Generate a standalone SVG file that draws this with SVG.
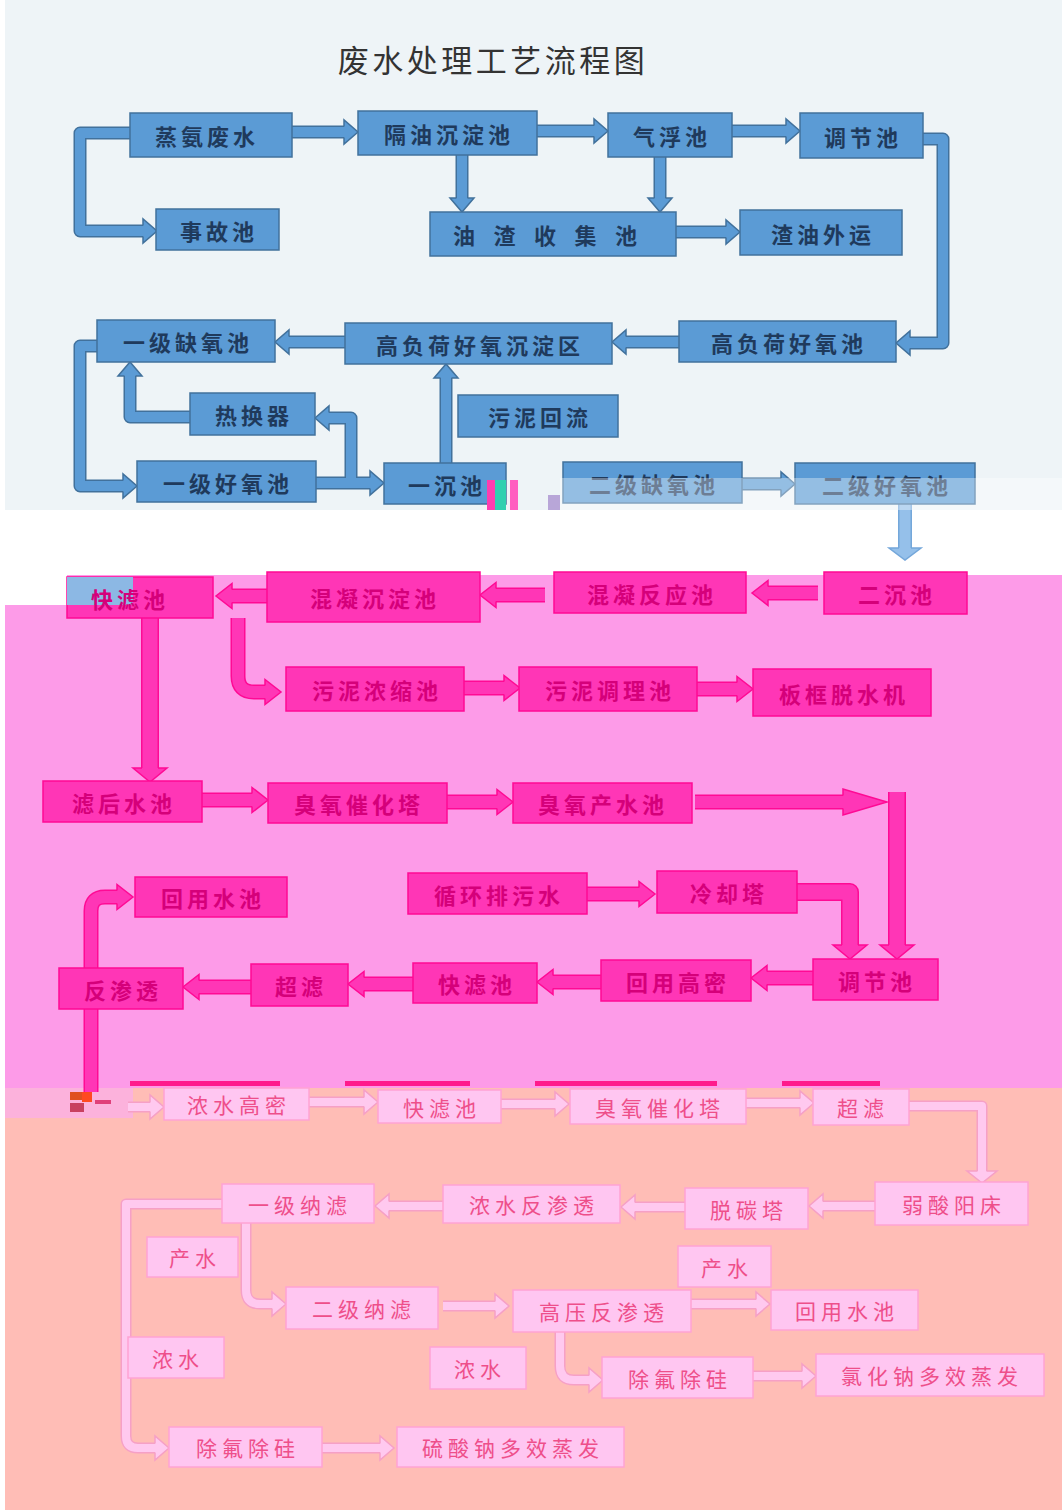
<svg xmlns="http://www.w3.org/2000/svg" xmlns:xlink="http://www.w3.org/1999/xlink" width="1062" height="1510" viewBox="0 0 1062 1510">
<defs>
<style>
.nb{fill:#5b9bd5;stroke:#41719c;stroke-width:1.5}
.np{fill:#ff36b6;stroke:#ff0a94;stroke-width:1.5}
.nq{fill:#ffc6f1;stroke:#ffa3d3;stroke-width:1.5}
.t{font-family:"Noto Sans CJK SC","Noto Sans",sans-serif;text-anchor:middle;dominant-baseline:central}
.tb{font-size:22px;font-weight:700;fill:#1f3a5c;letter-spacing:4px}
.tp{font-size:22px;font-weight:700;fill:#d5007a;letter-spacing:4px}
.tq{font-size:21px;font-weight:400;fill:#ee4f8a;letter-spacing:5px}
.title{font-size:31px;font-weight:400;fill:#333;letter-spacing:3.5px}
.sbo{fill:none;stroke:#41719c;stroke-width:13;stroke-linejoin:round}
.sbi{fill:none;stroke:#5b9bd5;stroke-width:10;stroke-linejoin:round}
.slo{fill:none;stroke:#74a7da;stroke-width:14}
.sli{fill:none;stroke:#95c0ea;stroke-width:11}
.spo{fill:none;stroke:#ff0a94;stroke-width:15;stroke-linejoin:round}
.spi{fill:none;stroke:#ff36b6;stroke-width:12;stroke-linejoin:round}
.swo{fill:none;stroke:#ff0a94;stroke-width:18;stroke-linejoin:round}
.swi{fill:none;stroke:#ff36b6;stroke-width:15;stroke-linejoin:round}
.sqo{fill:none;stroke:#f6a0c6;stroke-width:11;stroke-linejoin:round}
.sqi{fill:none;stroke:#ffc9ef;stroke-width:8;stroke-linejoin:round}
.hb{fill:#5b9bd5;stroke:#41719c;stroke-width:1.5}
.hl{fill:#95c0ea;stroke:#74a7da;stroke-width:1.5}
.hp{fill:#ff36b6;stroke:#ff0a94;stroke-width:1.5}
.hq{fill:#ffc9ef;stroke:#f6a0c6;stroke-width:1.5}
</style>
<path id="ahb" d="M-14,-5.5 L-14,-12 L0,0 L-14,12 L-14,5.5"/>
<path id="ahl" d="M-12,-6 L-12,-16 L0,0 L-12,16 L-12,6"/>
<path id="ahp" d="M-16,-6.5 L-16,-12.5 L0,0 L-16,12.5 L-16,6.5"/>
<path id="ahw" d="M-14,-8 L-14,-17 L0,0 L-14,17 L-14,8"/>
<path id="ahL" d="M-44,-6.5 L-44,-13 L0,0 L-44,13 L-44,6.5"/>
<path id="ahq" d="M-14,-4.5 L-14,-12 L0,0 L-14,12 L-14,4.5"/>
<path id="ahq2" d="M-12,-4.5 L-12,-15 L0,0 L-12,15 L-12,4.5"/>
<path id="blueShafts" d="M292,132 H345 M130,133 H80 V231 H144 M537,131 H595 M732,131 H787 M462,155 V199 M660,157 V199 M676,232 H727 M923,139 H943 V343 H909 M679,342 H625 M345,342 H288 M97,346 H80 V486 H124 M316,483 H371 M351,483 V418 H329 M190,417 H130 V375 M446,463 V377 M742,484 H782"/>
<path id="pinkShafts" d="M818,593 H767 M545,595 H495 M267,596 H231 M238,618 V676 Q238,692 254,692 H266 M464,688 H505 M697,689 H738 M202,800 H253 M447,802 H498 M695,802 H844 M587,894 H640 M813,978 H766 M601,982 H552 M413,984 H363 M251,987 H198 M91,968 V911 Q91,897 105,897 H118 M91,1009 V1092"/>
<path id="pinkWide" d="M150,618 V769 M897,792 V946 M797,892 H850 V946"/>
<path id="peachShafts" d="M128,1107 H151 M309,1102 H364 M501,1104 H555 M746,1103 H800 M909,1106 H982 V1171 M875,1206 H823 M685,1207 H635 M443,1206 H389 M222,1204 H126 V1436 Q126,1448 138,1448 H156 M246,1223 V1290 Q246,1304 260,1304 H273 M443,1306 H495 M691,1304 H756 M560,1332 V1366 Q560,1380 574,1380 H589 M753,1376 H802 M322,1448 H380"/>
</defs>

<g id="background">
<rect x="0" y="0" width="1062" height="1510" fill="#ffffff"/>
<rect x="5" y="0" width="1057" height="510" fill="#eef4f7"/>
<rect x="5" y="575" width="1057" height="513" fill="#fd9be8"/>
<rect x="5" y="575" width="62" height="30" fill="#ffffff"/>
<rect x="5" y="1088" width="1057" height="422" fill="#ffbdb6"/>
<rect x="5" y="1088" width="128" height="30" fill="#fcb2dc"/>
<g fill="#ff1a8c">
<rect x="130" y="1081" width="150" height="5"/>
<rect x="345" y="1081" width="125" height="5"/>
<rect x="535" y="1081" width="182" height="5"/>
<rect x="782" y="1081" width="98" height="5"/>
</g>
</g>

<g id="title"><text class="t title" x="493" y="58">废水处理工艺流程图</text></g>

<g id="connectors">
<use href="#blueShafts" class="sbo"/>
<use href="#blueShafts" class="sbi"/>
<path class="slo" d="M905,504 V549"/>
<path class="sli" d="M905,504 V549"/>
<use href="#ahb" class="hb" transform="translate(358,132)"/>
<use href="#ahb" class="hb" transform="translate(157,231)"/>
<use href="#ahb" class="hb" transform="translate(608,131)"/>
<use href="#ahb" class="hb" transform="translate(800,131)"/>
<use href="#ahb" class="hb" transform="translate(462,212) rotate(90)"/>
<use href="#ahb" class="hb" transform="translate(660,212) rotate(90)"/>
<use href="#ahb" class="hb" transform="translate(740,232)"/>
<use href="#ahb" class="hb" transform="translate(896,343) rotate(180)"/>
<use href="#ahb" class="hb" transform="translate(612,342) rotate(180)"/>
<use href="#ahb" class="hb" transform="translate(275,342) rotate(180)"/>
<use href="#ahb" class="hb" transform="translate(137,486)"/>
<use href="#ahb" class="hb" transform="translate(384,483)"/>
<use href="#ahb" class="hb" transform="translate(315,418) rotate(180)"/>
<use href="#ahb" class="hb" transform="translate(130,362) rotate(-90)"/>
<use href="#ahb" class="hb" transform="translate(446,364) rotate(-90)"/>
<use href="#ahb" class="hb" transform="translate(795,484)"/>
<use href="#ahl" class="hl" transform="translate(905,560) rotate(90)"/>

<use href="#pinkShafts" class="spo"/>
<use href="#pinkWide" class="swo"/>
<use href="#pinkShafts" class="spi"/>
<use href="#pinkWide" class="swi"/>
<use href="#ahp" class="hp" transform="translate(752,593) rotate(180)"/>
<use href="#ahp" class="hp" transform="translate(480,595) rotate(180)"/>
<use href="#ahp" class="hp" transform="translate(216,596) rotate(180)"/>
<use href="#ahp" class="hp" transform="translate(281,692)"/>
<use href="#ahp" class="hp" transform="translate(520,688)"/>
<use href="#ahp" class="hp" transform="translate(753,689)"/>
<use href="#ahp" class="hp" transform="translate(268,800)"/>
<use href="#ahp" class="hp" transform="translate(513,802)"/>
<use href="#ahL" class="hp" transform="translate(887,802)"/>
<use href="#ahp" class="hp" transform="translate(655,894)"/>
<use href="#ahp" class="hp" transform="translate(751,978) rotate(180)"/>
<use href="#ahp" class="hp" transform="translate(537,982) rotate(180)"/>
<use href="#ahp" class="hp" transform="translate(348,984) rotate(180)"/>
<use href="#ahp" class="hp" transform="translate(183,987) rotate(180)"/>
<use href="#ahp" class="hp" transform="translate(133,897)"/>
<use href="#ahw" class="hp" transform="translate(150,782) rotate(90)"/>
<use href="#ahw" class="hp" transform="translate(897,959) rotate(90)"/>
<use href="#ahw" class="hp" transform="translate(850,959) rotate(90)"/>

<use href="#peachShafts" class="sqo"/>
<use href="#peachShafts" class="sqi"/>
<use href="#ahq" class="hq" transform="translate(164,1107)"/>
<use href="#ahq" class="hq" transform="translate(378,1102)"/>
<use href="#ahq" class="hq" transform="translate(569,1104)"/>
<use href="#ahq" class="hq" transform="translate(814,1103)"/>
<use href="#ahq2" class="hq" transform="translate(982,1183) rotate(90)"/>
<use href="#ahq" class="hq" transform="translate(809,1206) rotate(180)"/>
<use href="#ahq" class="hq" transform="translate(621,1207) rotate(180)"/>
<use href="#ahq" class="hq" transform="translate(375,1206) rotate(180)"/>
<use href="#ahq" class="hq" transform="translate(169,1448)"/>
<use href="#ahq" class="hq" transform="translate(286,1304)"/>
<use href="#ahq" class="hq" transform="translate(509,1306)"/>
<use href="#ahq" class="hq" transform="translate(770,1304)"/>
<use href="#ahq" class="hq" transform="translate(603,1380)"/>
<use href="#ahq" class="hq" transform="translate(816,1376)"/>
<use href="#ahq" class="hq" transform="translate(394,1448)"/>
</g>

<g id="n-zhengan"><rect class="nb" x="130" y="113" width="162" height="44"/><text class="t tb" x="207" y="135">蒸氨废水</text></g>
<g id="n-shigu"><rect class="nb" x="156" y="209" width="123" height="41"/><text class="t tb" x="219" y="229.5">事故池</text></g>
<g id="n-geyou"><rect class="nb" x="358" y="111" width="179" height="44"/><text class="t tb" x="449" y="133">隔油沉淀池</text></g>
<g id="n-youzha"><rect class="nb" x="430" y="212" width="246" height="44"/><text class="t tb" style="letter-spacing:0" x="464 484 504.5 525 545 565 585.5 606 626" y="234">油 渣 收 集 池</text></g>
<g id="n-qifu"><rect class="nb" x="608" y="113" width="124" height="44"/><text class="t tb" x="672" y="135">气浮池</text></g>
<g id="n-tiaojie1"><rect class="nb" x="800" y="113" width="123" height="45"/><text class="t tb" x="863" y="135.5">调节池</text></g>
<g id="n-zhayou"><rect class="nb" x="740" y="210" width="162" height="45"/><text class="t tb" x="823" y="232.5">渣油外运</text></g>
<g id="n-yjqy"><rect class="nb" x="97" y="320" width="178" height="42"/><text class="t tb" x="188" y="341">一级缺氧池</text></g>
<g id="n-gfhcd"><rect class="nb" x="345" y="323" width="267" height="41"/><text class="t tb" x="480" y="343.5">高负荷好氧沉淀区</text></g>
<g id="n-gfh"><rect class="nb" x="679" y="321" width="217" height="41"/><text class="t tb" x="789" y="341.5">高负荷好氧池</text></g>
<g id="n-rhq"><rect class="nb" x="190" y="393" width="125" height="42"/><text class="t tb" x="254" y="414">热换器</text></g>
<g id="n-wnhl"><rect class="nb" x="458" y="395" width="160" height="42"/><text class="t tb" x="540" y="416">污泥回流</text></g>
<g id="n-yjhy"><rect class="nb" x="137" y="461" width="179" height="41"/><text class="t tb" x="228" y="481.5">一级好氧池</text></g>
<g id="n-yichen"><rect class="nb" x="384" y="463" width="122" height="41"/><text class="t tb" x="447" y="483.5">一沉池</text></g>
<g id="n-ejqy"><rect class="nb" x="563" y="462" width="179" height="41"/><text class="t tb" x="654" y="482.5">二级缺氧池</text></g>
<g id="n-ejhy"><rect class="nb" x="795" y="463" width="180" height="41"/><text class="t tb" x="887" y="483.5">二级好氧池</text></g>

<rect x="560" y="478" width="502" height="32" fill="#ffffff" opacity="0.35"/>
<g id="glitch1">
<rect x="487" y="480" width="8" height="30" fill="#ff3db0"/>
<rect x="495" y="480" width="11" height="30" fill="#2fd0b0"/>
<rect x="510" y="480" width="8" height="30" fill="#ff5ec0"/>
<rect x="548" y="495" width="12" height="15" fill="#b8a6d8"/>
</g>

<g id="n-kuailv1"><rect class="np" x="67" y="577" width="146" height="41"/><rect x="67" y="577" width="66" height="28" fill="#8cb8e4"/><text class="t tp" x="130" y="598">快滤池</text></g>
<g id="n-hncd"><rect class="np" x="267" y="572" width="213" height="50"/><text class="t tp" x="375" y="597">混凝沉淀池</text></g>
<g id="n-hnfy"><rect class="np" x="554" y="572" width="192" height="41"/><text class="t tp" x="652" y="592.5">混凝反应池</text></g>
<g id="n-erchen"><rect class="np" x="824" y="572" width="143" height="42"/><text class="t tp" x="897" y="593">二沉池</text></g>
<g id="n-wnns"><rect class="np" x="286" y="667" width="178" height="44"/><text class="t tp" x="377" y="689">污泥浓缩池</text></g>
<g id="n-wntl"><rect class="np" x="519" y="667" width="178" height="44"/><text class="t tp" x="610" y="689">污泥调理池</text></g>
<g id="n-bkts"><rect class="np" x="753" y="669" width="178" height="47"/><text class="t tp" x="844" y="692.5">板框脱水机</text></g>
<g id="n-lhsc"><rect class="np" x="43" y="781" width="159" height="41"/><text class="t tp" x="124" y="801.5">滤后水池</text></g>
<g id="n-cyjht1"><rect class="np" x="268" y="783" width="179" height="40"/><text class="t tp" x="359" y="803">臭氧催化塔</text></g>
<g id="n-cycs"><rect class="np" x="513" y="783" width="179" height="40"/><text class="t tp" x="603" y="803">臭氧产水池</text></g>
<g id="n-xhpw"><rect class="np" x="408" y="873" width="179" height="41"/><text class="t tp" x="499" y="893.5">循环排污水</text></g>
<g id="n-lqt"><rect class="np" x="657" y="871" width="140" height="42"/><text class="t tp" x="729" y="892">冷却塔</text></g>
<g id="n-hysc1"><rect class="np" x="135" y="877" width="152" height="40"/><text class="t tp" x="213" y="897">回用水池</text></g>
<g id="n-fst"><rect class="np" x="59" y="968" width="124" height="41"/><text class="t tp" x="123" y="988.5">反渗透</text></g>
<g id="n-chaolv1"><rect class="np" x="251" y="964" width="97" height="42"/><text class="t tp" x="301" y="985">超滤</text></g>
<g id="n-kuailv2"><rect class="np" x="413" y="963" width="124" height="40"/><text class="t tp" x="477" y="983">快滤池</text></g>
<g id="n-hygm"><rect class="np" x="601" y="960" width="150" height="41"/><text class="t tp" x="678" y="980.5">回用高密</text></g>
<g id="n-tiaojie2"><rect class="np" x="813" y="959" width="125" height="41"/><text class="t tp" x="877" y="979.5">调节池</text></g>

<g id="glitch2">
<rect x="70" y="1092" width="12" height="8" fill="#e05020"/>
<rect x="82" y="1092" width="10" height="10" fill="#ff4a20"/>
<rect x="70" y="1103" width="14" height="9" fill="#c84060"/>
<rect x="95" y="1100" width="16" height="4" fill="#e0407a"/>
</g>

<g id="n-nsgm"><rect class="nq" x="164" y="1088" width="145" height="32"/><text class="t tq" x="239" y="1104">浓水高密</text></g>
<g id="n-kuailv3"><rect class="nq" x="378" y="1090" width="123" height="33"/><text class="t tq" x="442" y="1106.5">快滤池</text></g>
<g id="n-cyjht2"><rect class="nq" x="570" y="1089" width="176" height="35"/><text class="t tq" x="660" y="1106.5">臭氧催化塔</text></g>
<g id="n-chaolv2"><rect class="nq" x="813" y="1089" width="96" height="36"/><text class="t tq" x="863" y="1107">超滤</text></g>
<g id="n-rsyc"><rect class="nq" x="875" y="1182" width="153" height="43"/><text class="t tq" x="954" y="1203.5">弱酸阳床</text></g>
<g id="n-ttt"><rect class="nq" x="685" y="1188" width="123" height="41"/><text class="t tq" x="749" y="1208.5">脱碳塔</text></g>
<g id="n-nsfst"><rect class="nq" x="443" y="1185" width="177" height="38"/><text class="t tq" x="534" y="1204">浓水反渗透</text></g>
<g id="n-yjnl"><rect class="nq" x="222" y="1184" width="152" height="39"/><text class="t tq" x="300" y="1203.5">一级纳滤</text></g>
<g id="n-cs1"><rect class="nq" x="147" y="1237" width="91" height="40"/><text class="t tq" x="195" y="1257">产水</text></g>
<g id="n-cs2"><rect class="nq" x="678" y="1246" width="93" height="41"/><text class="t tq" x="727" y="1266.5">产水</text></g>
<g id="n-ejnl"><rect class="nq" x="286" y="1287" width="152" height="42"/><text class="t tq" x="364" y="1308">二级纳滤</text></g>
<g id="n-gyfst"><rect class="nq" x="513" y="1290" width="178" height="42"/><text class="t tq" x="604" y="1311">高压反渗透</text></g>
<g id="n-hysc2"><rect class="nq" x="771" y="1290" width="147" height="40"/><text class="t tq" x="847" y="1310">回用水池</text></g>
<g id="n-ns1"><rect class="nq" x="128" y="1337" width="96" height="41"/><text class="t tq" x="178" y="1357.5">浓水</text></g>
<g id="n-ns2"><rect class="nq" x="430" y="1347" width="96" height="42"/><text class="t tq" x="480" y="1368">浓水</text></g>
<g id="n-cfcg1"><rect class="nq" x="602" y="1357" width="151" height="41"/><text class="t tq" x="680" y="1377.5">除氟除硅</text></g>
<g id="n-lhnzf"><rect class="nq" x="816" y="1354" width="228" height="42"/><text class="t tq" x="932" y="1375">氯化钠多效蒸发</text></g>
<g id="n-cfcg2"><rect class="nq" x="169" y="1427" width="153" height="40"/><text class="t tq" x="248" y="1447">除氟除硅</text></g>
<g id="n-lsnzf"><rect class="nq" x="397" y="1427" width="227" height="40"/><text class="t tq" x="513" y="1447">硫酸钠多效蒸发</text></g>
</svg>
